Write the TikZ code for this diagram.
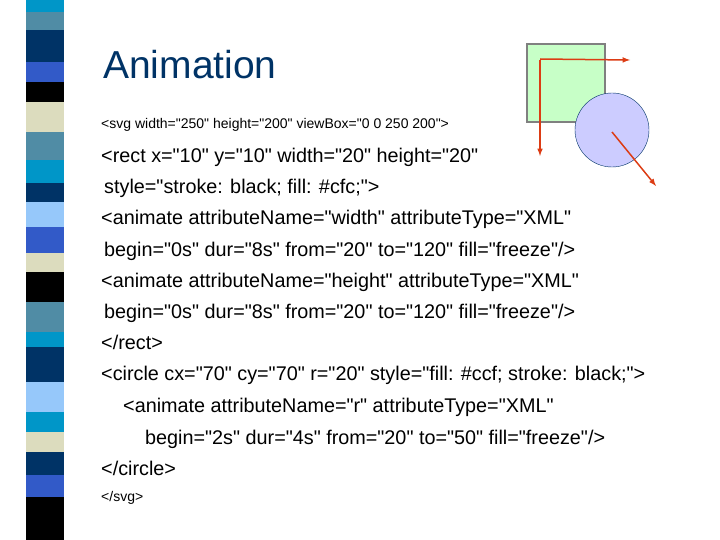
\documentclass[tikz,border=0pt]{standalone}
\usepackage{fontspec}
\setmainfont{Liberation Sans}[Ligatures=TeXOff]
\definecolor{navy}{RGB}{0,51,102}
\definecolor{steel}{RGB}{80,140,165}
\definecolor{cyanb}{RGB}{0,150,200}
\definecolor{midblue}{RGB}{50,90,200}
\definecolor{lightb}{RGB}{150,200,250}
\definecolor{beige}{RGB}{220,220,190}
\definecolor{arrowred}{RGB}{220,60,20}
\tikzset{
  code/.style={anchor=base west, inner sep=0pt, font=\fontsize{19.8}{22}\selectfont},
  smallcode/.style={anchor=base west, inner sep=0pt, font=\fontsize{14}{16}\selectfont},
  redarrow/.style={draw=arrowred, line width=1.5pt, -latex}
}
\begin{document}
\begin{tikzpicture}[x=1pt, y=-1pt]
    \useasboundingbox (0,0) rectangle (720,540);

    % striped bar on the left
    \foreach \ya/\yb/\c in {0/12/cyanb, 12/30/steel, 30/62/navy, 62/82/midblue, 82/102/black,
        102/132/beige, 132/160/steel, 160/183/cyanb, 183/202/navy, 202/227/lightb,
        227/253/midblue, 253/272/beige, 272/302/black, 302/332/steel, 332/347/cyanb,
        347/382/navy, 382/412/lightb, 412/432/cyanb, 432/452/beige, 452/475/navy,
        475/497/midblue, 497/540/black}
        \fill [\c] (26,\ya) rectangle (64,\yb);

    % the animated shapes
    \draw [fill=green!22, draw=gray, line width=1.5pt] (527,44) rectangle (605,122);
    \draw [fill=blue!20, draw=navy] (612,130) circle (37);
    \coordinate (corner) at (540,60);
    \coordinate (wend) at (630,60);
    \coordinate (hend) at (540,156);
    \coordinate (centre) at (612,132);
    \coordinate (rend) at (656,186);
    \draw [redarrow] (hend |- corner) ++(0,-1) -- (wend);
    \draw [redarrow] (corner) -- (hend);
    \draw [redarrow] (centre) -- (rend);

    % text
    \node (title) [anchor=base west, inner sep=0pt, text=navy, font=\fontsize{39}{44}\selectfont] at (103,79) {Animation};
    \node (svg) [smallcode] at (101,129) {<svg width="250" height="200" viewBox="0 0 250 200">};
    \node (rect) [code] at (101,163) {<rect x="10" y="10" width="20" height="20"};
    \node (rstyle) [code] at (104,194) {style="stroke: black; fill: \#cfc;">};
    \node (anw) [code] at (101,225) {<animate attributeName="width" attributeType="XML"};
    \node (anwb) [code] at (104,256) {begin="0s" dur="8s" from="20" to="120" fill="freeze"/>};
    \node (anh) [code] at (101,287) {<animate attributeName="height" attributeType="XML"};
    \node (anhb) [code] at (104,318) {begin="0s" dur="8s" from="20" to="120" fill="freeze"/>};
    \node (rectend) [code] at (101,349) {</rect>};
    \node (circ) [code] at (101,380) {<circle cx="70" cy="70" r="20" style="fill: \#ccf; stroke: black;">};
    \node (anr) [code] at (123,412) {<animate attributeName="r" attributeType="XML"};
    \node (anrb) [code] at (145,444) {begin="2s" dur="4s" from="20" to="50" fill="freeze"/>};
    \node (circend) [code] at (101,475) {</circle>};
    \node (svgend) [smallcode] at (101,501) {</svg>};
\end{tikzpicture}
\end{document}
